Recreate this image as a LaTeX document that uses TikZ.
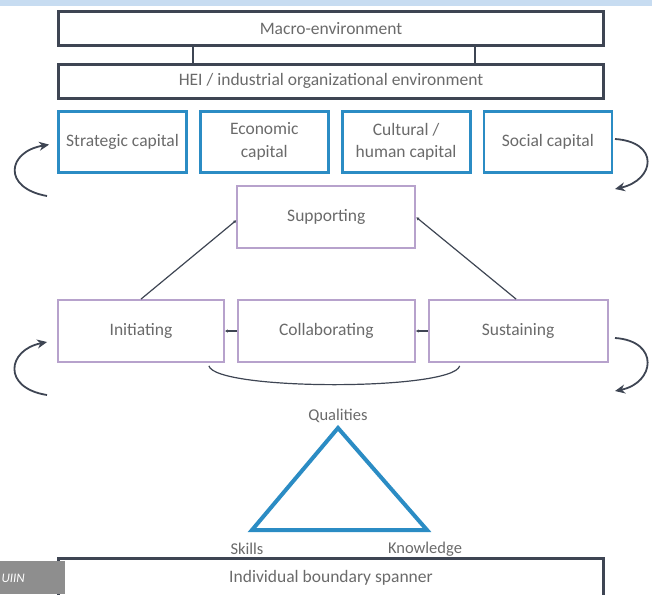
\documentclass[tikz,border=0pt]{standalone}
\usepackage{fontspec}
\setmainfont{Carlito}
\usetikzlibrary{arrows.meta, positioning, calc}
\definecolor{uiinslate}{HTML}{3E4553}
\definecolor{uiinblue}{HTML}{2B8CC4}
\definecolor{uiinlilac}{HTML}{B7A2CC}
\definecolor{uiintext}{HTML}{6A6A6A}
\definecolor{uiinband}{HTML}{C7DCF1}
\definecolor{uiingray}{HTML}{8E8E8E}

\begin{document}
\begin{tikzpicture}[
    x=1pt, y=-1pt,
    node distance=16pt and 11pt,
    box/.style={rectangle, draw, align=center, text=uiintext, inner sep=2pt,
                font=\fontsize{17.5}{22.5}\selectfont},
    envbox/.style={box, draw=uiinslate, line width=2.8pt, minimum width=545pt, minimum height=34pt},
    capbox/.style={box, draw=uiinblue, line width=2.8pt, minimum width=128pt, minimum height=61pt},
    actbox/.style={box, draw=uiinlilac, line width=1.8pt, minimum height=62pt},
    link/.style={draw=uiinslate, line width=1.2pt},
    tick/.style={link, -{Latex[length=3pt, width=3.5pt]}},
    cycle/.style={draw=uiinslate, line width=1.8pt, -{Stealth[length=10pt, width=9pt]}},
    corner/.style={text=uiintext, font=\fontsize{16.5}{18}\selectfont},
]
  \clip (0,0) rectangle (652,594);
  \fill[uiinband] (0,0) rectangle (652,6);

  % Environments
  \node[envbox] (macro) at (331,28.5) {Macro-environment};
  \node[envbox, below=of macro] (hei) {HEI / industrial organizational environment};
  \draw[link] ([xshift=-138pt]macro.south) -- ([xshift=-138pt]hei.north);
  \draw[link] ([xshift=144pt]macro.south) -- ([xshift=144pt]hei.north);

  % Capitals
  \node[capbox, below=10pt of hei.south west, anchor=north west] (strat) {Strategic capital};
  \node[capbox, right=of strat] (econ) {Economic\\capital};
  \node[capbox, right=of econ] (cult) {Cultural /\\human capital};
  \node[capbox, right=of cult] (social) {Social capital};

  % Activities
  \node[actbox, minimum width=166pt] (init) at (141,331) {Initiating};
  \node[actbox, minimum width=177pt, right=12pt of init] (collab) {Collaborating};
  \node[actbox, minimum width=179pt, right=12pt of collab] (sust) {Sustaining};
  \node[actbox, minimum width=178pt, above=50pt of collab] (supp) {Supporting};

  \draw[tick] (init.north) -- ([yshift=-3pt]supp.west);
  \draw[tick] ([xshift=-2pt]sust.north) -- (supp.east);
  \draw[tick] (collab.west) -- (init.east);
  \draw[tick] (sust.west) -- (collab.east);
  \draw[link] ([xshift=-16pt,yshift=-3pt]init.south east)
    .. controls +(7,25) and +(-7,25) .. ([xshift=32pt,yshift=-3pt]sust.south west);

  % Cycles at the sides
  \coordinate (capin) at (47,196);
  \coordinate (capout) at (615,139);
  \coordinate (actin) at (47,395);
  \coordinate (actout) at (615,338);
  \draw[cycle] (capin) .. controls +(-45,-8) and +(-42,7) .. ([xshift=-8pt,yshift=-3pt]strat.west);
  \draw[cycle] (capout) .. controls +(45,3) and +(40,-9) .. (615,189);
  \draw[cycle] (actin) .. controls +(-45,-7) and +(-40,8) .. ([xshift=-10pt,yshift=-11pt]init.west);
  \draw[cycle] (actout) .. controls +(45,3) and +(40,-8) .. (615,391);

  % Qualities, skills, knowledge
  \coordinate (qual) at (338,428);
  \coordinate (skill) at (252,530);
  \coordinate (know) at (427,530);
  \draw[uiinblue, line width=4pt, line join=miter] (qual) -- (skill) -- (know) -- cycle;
  \node[corner, above=2pt of qual] (qualtext) {Qualities};
  \node[corner] (skilltext) at (247,549) {Skills};
  \node[corner] (knowtext) at (425,549) {Knowledge};

  % Individual level
  \node[envbox, minimum height=40pt] (spanner) at (331,578.5) {\raisebox{4pt}{Individual boundary spanner}};
  \fill[uiingray] (0,561) rectangle (65,594);
  \node[anchor=west, text=white, font=\fontsize{13}{14}\selectfont\itshape] (tag) at (-2,578) {UIIN};
\end{tikzpicture}
\end{document}
